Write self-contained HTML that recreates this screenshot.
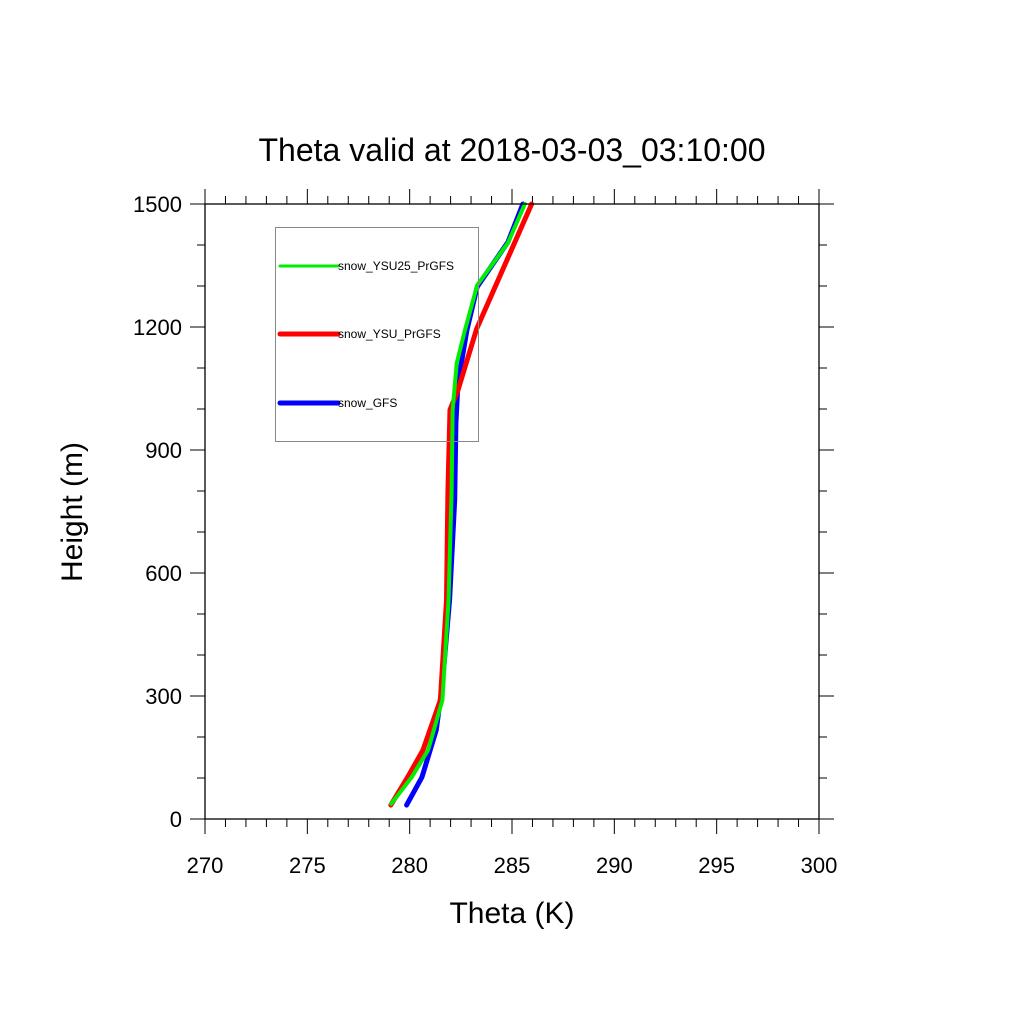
<!DOCTYPE html>
<html><head><meta charset="utf-8"><style>
body{margin:0;background:#fff;}
svg text{font-family:"Liberation Sans",sans-serif;fill:#000;}
</style></head><body>
<svg id="chart" width="1024" height="1024" xmlns="http://www.w3.org/2000/svg">
<rect width="1024" height="1024" fill="#fff"/>
<text x="512" y="161" font-size="32" text-anchor="middle">Theta valid at 2018-03-03_03:10:00</text>
<g id="axes"></g>
<g id="series"></g>
<rect x="275.5" y="227.5" width="203" height="214" fill="none" stroke="#888" stroke-width="1"/>
<g id="legend"></g>
<rect x="205" y="204" width="614" height="615" fill="none" stroke="#000" stroke-width="1.3"/>
<text x="512" y="923" font-size="30" text-anchor="middle">Theta (K)</text>
<text transform="translate(82,512) rotate(-90)" font-size="30" text-anchor="middle">Height (m)</text>
</svg>
<script>
const xTicks=[270,275,280,285,290,295,300];
const yTicks=[0,300,600,900,1200,1500];
const seriesNames=["snow_YSU25_PrGFS","snow_YSU_PrGFS","snow_GFS"];
const greenK=[279.1,280.1,280.9,281.6,281.9,282.05,282.1,282.3,282.7,283.3,284.8,285.63];
const greenM=[37,102,168,290,534,800,998,1112,1192,1302,1405,1500];
const redK=[279.08,279.9,280.65,281.5,281.8,281.87,281.97,282.36,283.27,285.96];
const redM=[34,102,168,290,534,800,998,1046,1195,1500];
const blueK=[279.85,280.6,281.3,281.6,281.95,282.2,282.26,282.36,282.8,283.3,284.8,285.53];
const blueM=[34,102,217,330,534,778,966,1063,1193,1298,1407,1500];
const X0=205,X1=819,Y0=819,Y1=204;
const xs=v=>X0+(v-270)/30*(X1-X0);
const ys=v=>Y0-v/1500*(Y0-Y1);
const NS="http://www.w3.org/2000/svg";
function mk(tag,attrs,parent){const e=document.createElementNS(NS,tag);for(const k in attrs)e.setAttribute(k,attrs[k]);parent.appendChild(e);return e;}
const ax=document.getElementById('axes');
for(let v=270;v<=300;v++){const x=xs(v);const L=(v%5===0)?15:8;
 const t1=mk('line',{x1:x,x2:x,y1:Y0,y2:Y0+L,stroke:'#000','stroke-width':1},ax);
 
 
 const t2=mk('line',{x1:x,x2:x,y1:Y1,y2:Y1-L,stroke:'#000','stroke-width':1},ax);
 
 }
xTicks.forEach(v=>{const t=mk('text',{x:xs(v),y:873,'font-size':22,'text-anchor':'middle'},ax);t.textContent=v;
 
 });
for(let v=0;v<=1500;v+=100){const y=ys(v);const L=(v%300===0)?15:8;
 const t1=mk('line',{x1:X0,x2:X0-L,y1:y,y2:y,stroke:'#000','stroke-width':1},ax);
 
 
 const t2=mk('line',{x1:X1,x2:X1+L,y1:y,y2:y,stroke:'#000','stroke-width':1},ax);
 
 }
yTicks.forEach(v=>{const t=mk('text',{x:182,y:ys(v)+8,'font-size':22,'text-anchor':'end'},ax);t.textContent=v;
 
 });
const sg=document.getElementById('series');
const data=[[greenK,greenM,'#00ee00',4,'series-ysu25-prgfs'],[blueK,blueM,'#0000ff',5,'series-gfs'],[redK,redM,'#ff0000',5,'series-ysu-prgfs']];
// draw order: blue, red, green on top roughly
[data[1],data[2],data[0]].forEach(d=>{
 const p=d[0].map((k,i)=>xs(k)+','+ys(d[1][i])).join(' ');
 const pl=mk('polyline',{points:p,fill:'none',stroke:d[2],'stroke-width':d[3],'stroke-linejoin':'round','stroke-linecap':'round'},sg);
 
 
});
const lg=document.getElementById('legend');
const lc=['#00ee00','#ff0000','#0000ff'],lw=[3,5,5],ly=[266,334,403];
seriesNames.forEach((n,i)=>{
 const l=mk('line',{x1:280,x2:338,y1:ly[i],y2:ly[i],stroke:lc[i],'stroke-width':lw[i],'stroke-linecap':'round'},lg);
 
 
 const t=mk('text',{x:338,y:ly[i]+4,'font-size':12},lg);t.textContent=n;
 
 
});
</script>
</body></html>
